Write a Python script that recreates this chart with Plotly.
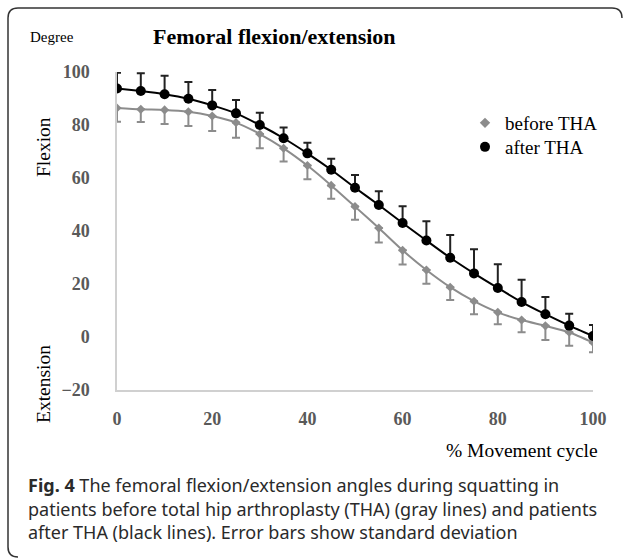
import plotly.graph_objects as go

W, H = 627, 559
ML, MR, MT, MB = 117, 34, 72, 169

x_pct = [0, 5, 10, 15, 20, 25, 30, 35, 40, 45, 50, 55, 60, 65, 70, 75, 80, 85, 90, 95, 100]
before_mean = [86.4, 85.9, 85.7, 85.0, 83.4, 80.9, 76.6, 71.2, 64.7, 57.2, 49.2, 41.1, 32.7, 25.3, 18.8, 13.5, 9.3, 6.4, 4.2, 1.8, -2.1]
before_sd = [5.2, 4.8, 5.3, 5.4, 5.7, 5.7, 5.4, 5.0, 5.2, 5.0, 5.0, 5.4, 5.3, 5.2, 4.8, 4.9, 4.5, 4.6, 5.3, 5.1, 3.7]
after_mean = [93.8, 92.8, 91.6, 89.9, 87.4, 84.4, 80.0, 75.0, 69.3, 63.1, 56.3, 49.8, 43.0, 36.4, 29.9, 24.0, 18.5, 13.2, 8.6, 4.3, 0.4]
after_sd = [5.9, 6.7, 7.0, 6.3, 5.8, 5.0, 4.6, 4.1, 4.0, 4.2, 4.8, 5.2, 6.3, 7.3, 8.6, 9.1, 9.0, 8.4, 6.5, 4.5, 4.1]

x_ticks = [0, 20, 40, 60, 80, 100]
y_ticks = [-20, 0, 20, 40, 60, 80, 100]

GRAY = "#8c8c8c"
SERIF = "Liberation Serif"
SANS = "Noto Sans"


def px(xp):
    return (xp - ML) / (W - ML - MR)


def py(yp):
    return (H - MB - yp) / (H - MT - MB)


fig = go.Figure()

fig.add_trace(go.Scatter(
    x=x_pct, y=before_mean, mode="lines+markers", showlegend=False,
    line=dict(color=GRAY, width=2, shape="spline", smoothing=0.6),
    marker=dict(symbol="diamond", size=7, color=GRAY),
    error_y=dict(type="data", array=[0] * len(before_sd), arrayminus=before_sd,
                 symmetric=False, color=GRAY, thickness=2, width=4),
))
fig.add_trace(go.Scatter(
    x=x_pct, y=after_mean, mode="lines+markers", showlegend=False,
    line=dict(color="black", width=2, shape="spline", smoothing=0.6),
    marker=dict(symbol="circle", size=10, color="black"),
    error_y=dict(type="data", array=after_sd, arrayminus=[0] * len(after_sd),
                 symmetric=False, color="#222222", thickness=2, width=4),
))
# legend entries (markers only)
fig.add_trace(go.Scatter(x=[None], y=[None], mode="markers", name="before THA",
                         legend="legend",
                         marker=dict(symbol="diamond", size=8, color=GRAY)))
fig.add_trace(go.Scatter(x=[None], y=[None], mode="markers", name="after THA",
                         legend="legend2",
                         marker=dict(symbol="circle", size=10, color="black")))

tickfont = dict(family=SERIF, size=18, color="#595959", weight="bold")
legfont = dict(family=SERIF, size=19, color="black")

fig.update_layout(
    width=W, height=H,
    margin=dict(l=ML, r=MR, t=MT, b=MB, autoexpand=False),
    paper_bgcolor="white", plot_bgcolor="white",
    showlegend=True,
    legend=dict(x=px(465), y=py(123), xanchor="left", yanchor="middle",
                font=legfont, bgcolor="rgba(0,0,0,0)", itemwidth=30),
    legend2=dict(x=px(465), y=py(147), xanchor="left", yanchor="middle",
                 font=legfont, bgcolor="rgba(0,0,0,0)", itemwidth=30),
    xaxis=dict(range=[0, 100], tickvals=x_ticks, showgrid=False, zeroline=False,
               showline=True, linecolor="#d0d0d0", linewidth=1.5, ticks="",
               tickfont=tickfont, ticklabelstandoff=12),
    yaxis=dict(range=[-20, 100], tickvals=y_ticks, showgrid=False, zeroline=False,
               showline=True, linecolor="#d0d0d0", linewidth=1.5, ticks="",
               tickfont=tickfont, ticklabelstandoff=22),
)

annotations = [
    dict(text="<b>Femoral flexion/extension</b>", x=px(274), y=py(37),
         font=dict(family=SERIF, size=22, color="black")),
    dict(text="Degree", x=px(52), y=py(37), font=dict(family=SERIF, size=15, color="black")),
    dict(text="Flexion", x=px(43), y=py(147), textangle=-90,
         font=dict(family=SERIF, size=19.5, color="black")),
    dict(text="Extension", x=px(43), y=py(384), textangle=-90,
         font=dict(family=SERIF, size=19.5, color="black")),
    dict(text="% Movement cycle", x=px(600), y=py(450), xanchor="right",
         font=dict(family=SERIF, size=19.5, color="black")),
    dict(text="<b>Fig. 4</b> The femoral flexion/extension angles during squatting in",
         x=px(26), y=py(485), xanchor="left",
         font=dict(family=SANS, size=18, color="#2a2a2a")),
    dict(text="patients before total hip arthroplasty (THA) (gray lines) and patients",
         x=px(26), y=py(508.5), xanchor="left",
         font=dict(family=SANS, size=18, color="#2a2a2a")),
    dict(text="after THA (black lines). Error bars show standard deviation",
         x=px(26), y=py(532), xanchor="left",
         font=dict(family=SANS, size=18, color="#2a2a2a")),
]
for a in annotations:
    a.update(xref="paper", yref="paper", showarrow=False)
    a.setdefault("xanchor", "center")
    a.setdefault("yanchor", "middle")
    fig.add_annotation(**a)

# rounded frame
x0, x1, y0, y1 = px(8), px(622), py(8), py(557)
rx = 10 / (W - ML - MR)
ry = 10 / (H - MT - MB)
path = (f"M {x0} {y1 + ry} L {x0} {y0 - ry} Q {x0} {y0} {x0 + rx} {y0} "
        f"L {x1 - rx} {y0} Q {x1} {y0} {x1} {y0 - ry}")
fig.add_shape(type="path", path=path, xref="paper", yref="paper",
              line=dict(color="#333333", width=1.5))
path2 = f"M {x0} {y1 + ry} Q {x0} {y1} {x0 + rx} {y1}"
fig.add_shape(type="path", path=path2, xref="paper", yref="paper",
              line=dict(color="#333333", width=1.5))

fig.write_html("out.html", config={"displayModeBar": False},
               post_script="document.body.style.margin='0';")
